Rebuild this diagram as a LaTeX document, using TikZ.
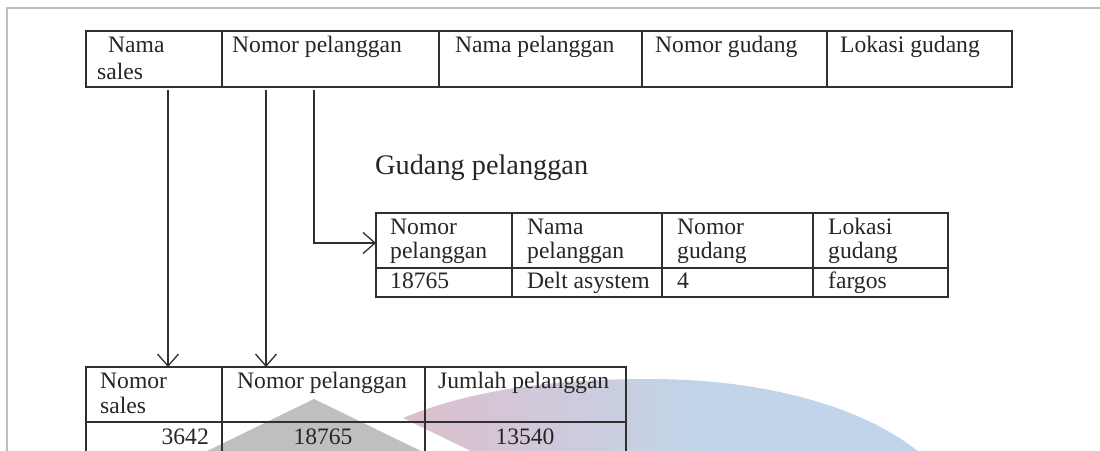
\documentclass[tikz,border=0pt]{standalone}
\usepackage{fontspec}
\setmainfont{Liberation Serif}
\usetikzlibrary{arrows.meta}

\definecolor{ink}{RGB}{38,38,38}
\definecolor{rule}{RGB}{48,48,48}
\definecolor{framegray}{RGB}{190,190,190}
\definecolor{wmgray}{RGB}{191,191,191}
\definecolor{wmpink}{RGB}{222,190,204}
\definecolor{wmblue}{RGB}{193,212,233}

\begin{document}
\begin{tikzpicture}[x=1pt,y=-1pt,
  cell/.style={draw=rule, line width=1.3pt, inner sep=0pt, outer sep=0pt, anchor=north west},
  txt/.style={anchor=base west, inner sep=0pt, text=ink, font=\fontsize{23.6}{27}\selectfont},
  num/.style={txt, anchor=base},
  heading/.style={anchor=base west, inner sep=0pt, text=ink, font=\fontsize{28.3}{32}\selectfont},
  conn/.style={draw=rule, line width=1.3pt, -{Straight Barb[length=12pt,width=21pt]}}
]
\useasboundingbox (0,0) rectangle (1100,450);
\fill[white] (0,0) rectangle (1100,450);

% page frame
\draw[framegray, line width=1.2pt] (7,452) -- (7,8) -- (1102,8);

% watermark in the lower part
\fill[wmgray] (314,399) -- (425,453) -- (203,453) -- cycle;
\begin{scope}
  \clip (403,418) .. controls (480,386) and (570,379) .. (650,379)
        .. controls (760,379) and (862,405) .. (920,453) -- (475,453) -- cycle;
  \shade[left color=wmpink, right color=wmblue] (400,370) rectangle (700,455);
  \fill[wmblue] (699,370) rectangle (930,455);
\end{scope}

% source table
\node[cell, minimum width=136pt, minimum height=56pt] (ts1) at (86,31) {};
\node[cell, minimum width=217pt, minimum height=56pt] (ts2) at (222,31) {};
\node[cell, minimum width=203pt, minimum height=56pt] (ts3) at (439,31) {};
\node[cell, minimum width=185pt, minimum height=56pt] (ts4) at (642,31) {};
\node[cell, minimum width=185pt, minimum height=56pt] (ts5) at (827,31) {};
\node[txt] (ta1) at (108,52) {Nama};
\node[txt] (ta2) at (97,79) {sales};
\node[txt] (tb1) at (232,52) {Nomor pelanggan};
\node[txt] (tc1) at (455,52) {Nama pelanggan};
\node[txt] (td1) at (655,52) {Nomor gudang};
\node[txt] (te1) at (840,52) {Lokasi gudang};

% Gudang pelanggan table
\node[heading] (gtitle) at (375,174) {Gudang pelanggan};
\node[cell, minimum width=136pt, minimum height=55pt] (gh1) at (376,213) {};
\node[cell, minimum width=150pt, minimum height=55pt] (gh2) at (512,213) {};
\node[cell, minimum width=151pt, minimum height=55pt] (gh3) at (662,213) {};
\node[cell, minimum width=135pt, minimum height=55pt] (gh4) at (813,213) {};
\node[cell, minimum width=136pt, minimum height=29pt] (gd1) at (376,268) {};
\node[cell, minimum width=150pt, minimum height=29pt] (gd2) at (512,268) {};
\node[cell, minimum width=151pt, minimum height=29pt] (gd3) at (662,268) {};
\node[cell, minimum width=135pt, minimum height=29pt] (gd4) at (813,268) {};
\node[txt] (ga1) at (390,234) {Nomor};
\node[txt] (ga2) at (390,258) {pelanggan};
\node[txt] (ga3) at (390,288) {18765};
\node[txt] (gb1) at (527,234) {Nama};
\node[txt] (gb2) at (527,258) {pelanggan};
\node[txt] (gb3) at (527,288) {Delt asystem};
\node[txt] (gc1) at (677,234) {Nomor};
\node[txt] (gc2) at (677,258) {gudang};
\node[txt] (gc3) at (677,288) {4};
\node[txt] (gg1) at (828,234) {Lokasi};
\node[txt] (gg2) at (828,258) {gudang};
\node[txt] (gg3) at (828,288) {fargos};

% sales table
\node[cell, minimum width=136pt, minimum height=55pt] (bh1) at (86,367) {};
\node[cell, minimum width=203pt, minimum height=55pt] (bh2) at (222,367) {};
\node[cell, minimum width=201pt, minimum height=55pt] (bh3) at (425,367) {};
\node[cell, minimum width=136pt, minimum height=40pt] (bd1) at (86,422) {};
\node[cell, minimum width=203pt, minimum height=40pt] (bd2) at (222,422) {};
\node[cell, minimum width=201pt, minimum height=40pt] (bd3) at (425,422) {};
\node[txt] (ba1) at (100,388) {Nomor};
\node[txt] (ba2) at (100,413) {sales};
\node[txt] (bb1) at (237,388) {Nomor pelanggan};
\node[txt] (bc1) at (438,388) {Jumlah pelanggan};
\node[txt, anchor=base east] (ba3) at (209,444) {3642};
\node[num] (bb3) at (323,444) {18765};
\node[num] (bc3) at (525,444) {13540};

% connectors
\draw[conn] ([xshift=82pt,yshift=-3pt]ts1.south west) -- ([xshift=82pt]bh1.north west);
\draw[conn] ([xshift=44pt,yshift=-3pt]ts2.south west) -- ([xshift=44pt]bh2.north west);
\draw[conn] ([xshift=92pt,yshift=-3pt]ts2.south west) |- ([yshift=-2.5pt]gh1.west);
\end{tikzpicture}
\end{document}
